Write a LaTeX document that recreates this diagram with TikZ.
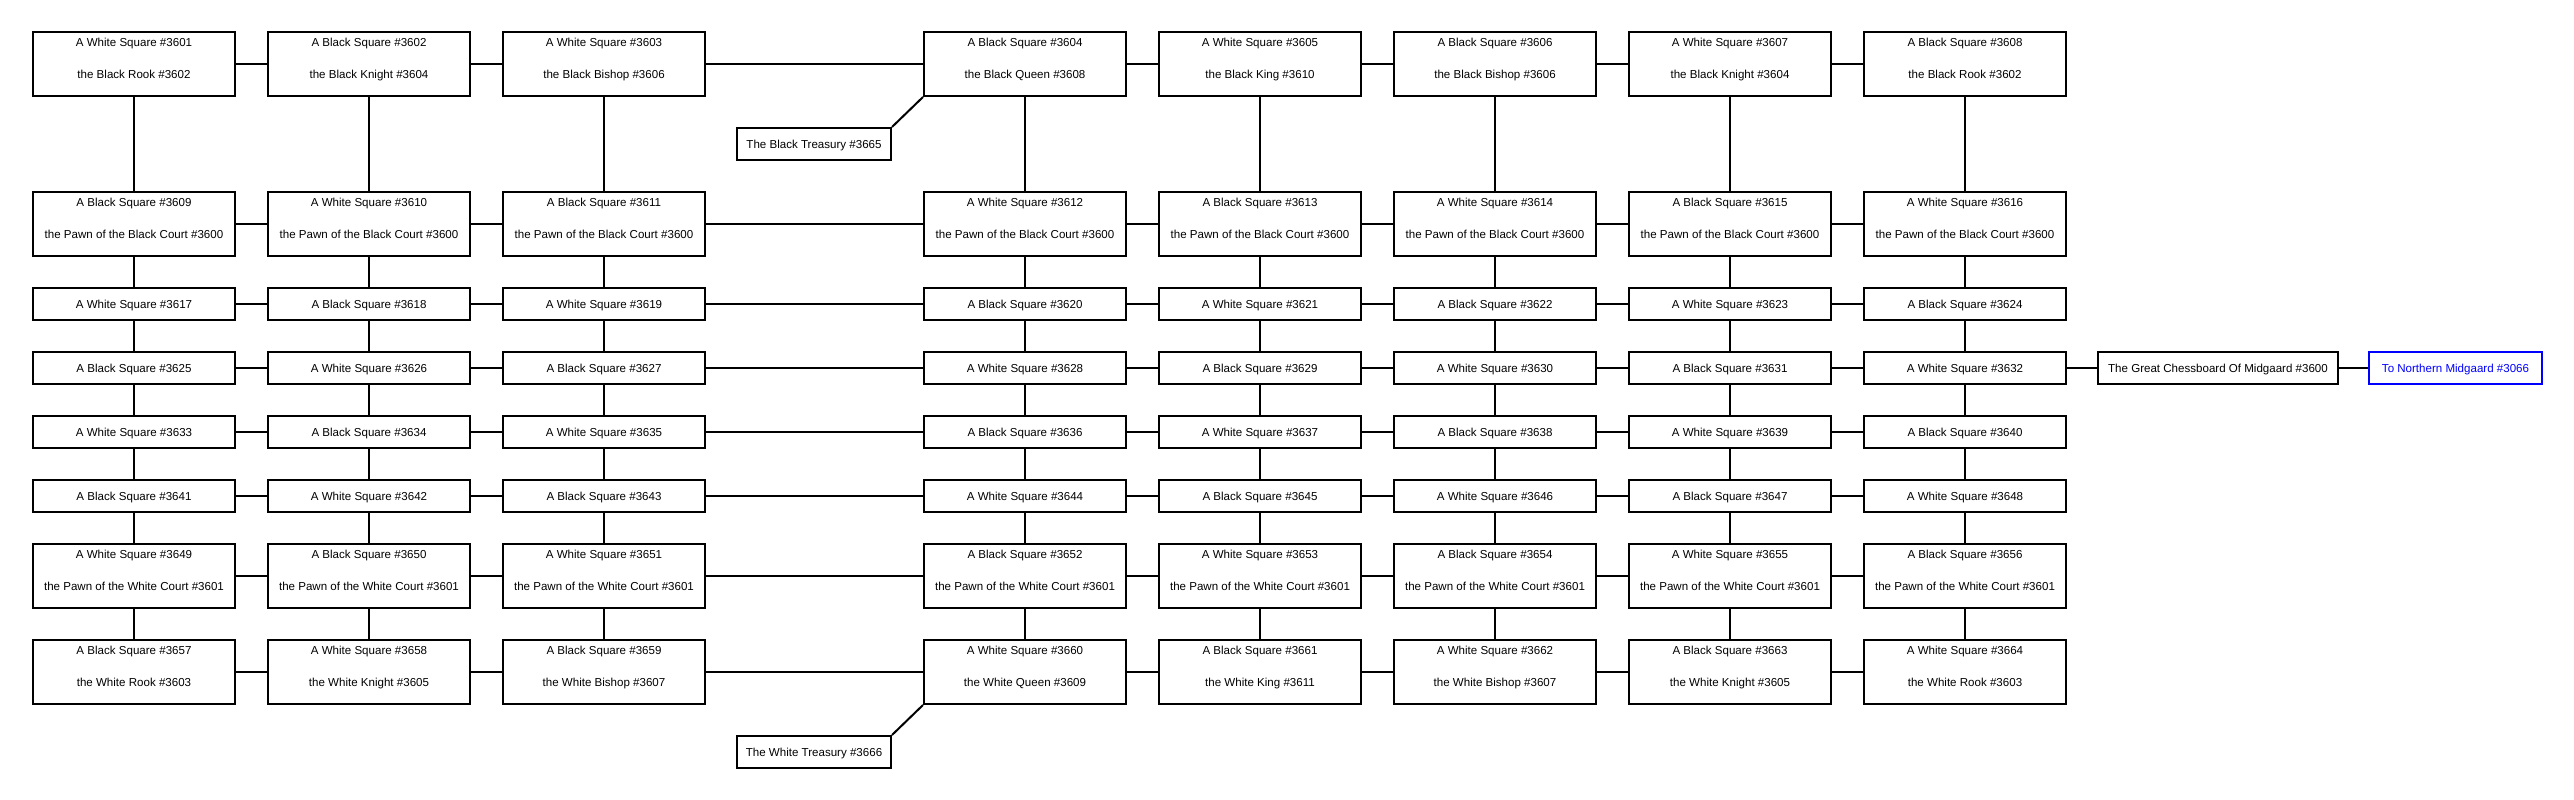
\documentclass[tikz,border=0pt]{standalone}
\usepackage{fontspec}
\setmainfont{Liberation Sans}
\usetikzlibrary{calc}
\definecolor{linkblue}{RGB}{0,0,255}
\tikzset{
  sq/.style={draw=black, line width=2bp, fill=white, inner sep=0pt, minimum width=202bp, minimum height=32bp,
             font=\fontsize{11.6}{13}\selectfont, text height=8.3bp, text depth=0pt},
  sqtall/.style={sq, minimum height=64bp},
  txt/.style={inner sep=0pt, font=\fontsize{11.6}{13}\selectfont, text height=8.3bp, text depth=0pt},
  conn/.style={draw=black, line width=2bp},
}
\newcommand\sqtwo[4]{%
  \node[sqtall] (n#1) at (#2) {};
  \node[txt] (n#1a) at ($(n#1.center)+(0,-22)$) {#3};
  \node[txt] (n#1b) at ($(n#1.center)+(0,10)$) {#4};
}
\begin{document}
\begin{tikzpicture}[x=1bp,y=-1bp]
\fill[white] (0,0) rectangle (2574,800);
\useasboundingbox (0,0) rectangle (2574,800);

% Row 1
\sqtwo{3601}{134,64}{A White Square \#3601}{the Black Rook \#3602}
\sqtwo{3602}{369,64}{A Black Square \#3602}{the Black Knight \#3604}
\sqtwo{3603}{604,64}{A White Square \#3603}{the Black Bishop \#3606}
\sqtwo{3604}{1025,64}{A Black Square \#3604}{the Black Queen \#3608}
\sqtwo{3605}{1260,64}{A White Square \#3605}{the Black King \#3610}
\sqtwo{3606}{1495,64}{A Black Square \#3606}{the Black Bishop \#3606}
\sqtwo{3607}{1730,64}{A White Square \#3607}{the Black Knight \#3604}
\sqtwo{3608}{1965,64}{A Black Square \#3608}{the Black Rook \#3602}

% Row 2
\sqtwo{3609}{134,224}{A Black Square \#3609}{the Pawn of the Black Court \#3600}
\sqtwo{3610}{369,224}{A White Square \#3610}{the Pawn of the Black Court \#3600}
\sqtwo{3611}{604,224}{A Black Square \#3611}{the Pawn of the Black Court \#3600}
\sqtwo{3612}{1025,224}{A White Square \#3612}{the Pawn of the Black Court \#3600}
\sqtwo{3613}{1260,224}{A Black Square \#3613}{the Pawn of the Black Court \#3600}
\sqtwo{3614}{1495,224}{A White Square \#3614}{the Pawn of the Black Court \#3600}
\sqtwo{3615}{1730,224}{A Black Square \#3615}{the Pawn of the Black Court \#3600}
\sqtwo{3616}{1965,224}{A White Square \#3616}{the Pawn of the Black Court \#3600}

% Rows 3-6 (single line)
\foreach \r/\y in {3/304,4/368,5/432,6/496} {
  \foreach \c/\x in {1/134,2/369,3/604,4/1025,5/1260,6/1495,7/1730,8/1965} {
    \pgfmathtruncatemacro{\sqn}{3600+8*(\r-1)+\c}
    \pgfmathtruncatemacro{\sqp}{mod(\r+\c,2)}
    \ifnum\sqp=0 \def\sqcolname{White}\else\def\sqcolname{Black}\fi
    \node[sq] (n\sqn) at (\x,\y) {A \sqcolname{} Square \#\sqn};
  }
}

% Row 7
\sqtwo{3649}{134,576}{A White Square \#3649}{the Pawn of the White Court \#3601}
\sqtwo{3650}{369,576}{A Black Square \#3650}{the Pawn of the White Court \#3601}
\sqtwo{3651}{604,576}{A White Square \#3651}{the Pawn of the White Court \#3601}
\sqtwo{3652}{1025,576}{A Black Square \#3652}{the Pawn of the White Court \#3601}
\sqtwo{3653}{1260,576}{A White Square \#3653}{the Pawn of the White Court \#3601}
\sqtwo{3654}{1495,576}{A Black Square \#3654}{the Pawn of the White Court \#3601}
\sqtwo{3655}{1730,576}{A White Square \#3655}{the Pawn of the White Court \#3601}
\sqtwo{3656}{1965,576}{A Black Square \#3656}{the Pawn of the White Court \#3601}

% Row 8
\sqtwo{3657}{134,672}{A Black Square \#3657}{the White Rook \#3603}
\sqtwo{3658}{369,672}{A White Square \#3658}{the White Knight \#3605}
\sqtwo{3659}{604,672}{A Black Square \#3659}{the White Bishop \#3607}
\sqtwo{3660}{1025,672}{A White Square \#3660}{the White Queen \#3609}
\sqtwo{3661}{1260,672}{A Black Square \#3661}{the White King \#3611}
\sqtwo{3662}{1495,672}{A White Square \#3662}{the White Bishop \#3607}
\sqtwo{3663}{1730,672}{A Black Square \#3663}{the White Knight \#3605}
\sqtwo{3664}{1965,672}{A White Square \#3664}{the White Rook \#3603}

% Other rooms
\node[sq, minimum width=154bp] (bt) at (814,144) {The Black Treasury \#3665};
\node[sq, minimum width=154bp] (wt) at (814,752) {The White Treasury \#3666};
\node[sq, minimum width=240bp] (gc) at (2218,368) {The Great Chessboard Of Midgaard \#3600};
\node[sq, minimum width=173bp, draw=linkblue, text=linkblue] (nm) at (2455.5,368) {To Northern Midgaard \#3066};

% Connectors: horizontal
\foreach \r in {1,...,8} {
  \foreach \c in {1,...,7} {
    \pgfmathtruncatemacro{\ea}{3600+8*(\r-1)+\c}
    \pgfmathtruncatemacro{\eb}{\ea+1}
    \draw[conn] (n\ea) -- (n\eb);
  }
}
% Connectors: vertical
\foreach \r in {1,...,7} {
  \foreach \c in {1,...,8} {
    \pgfmathtruncatemacro{\ea}{3600+8*(\r-1)+\c}
    \pgfmathtruncatemacro{\eb}{\ea+8}
    \draw[conn] (n\ea) -- (n\eb);
  }
}
\draw[conn] (bt.north east) -- (n3604.south west);
\draw[conn] (wt.north east) -- (n3660.south west);
\draw[conn] (n3632) -- (gc);
\draw[conn] (gc) -- (nm);
\end{tikzpicture}
\end{document}
